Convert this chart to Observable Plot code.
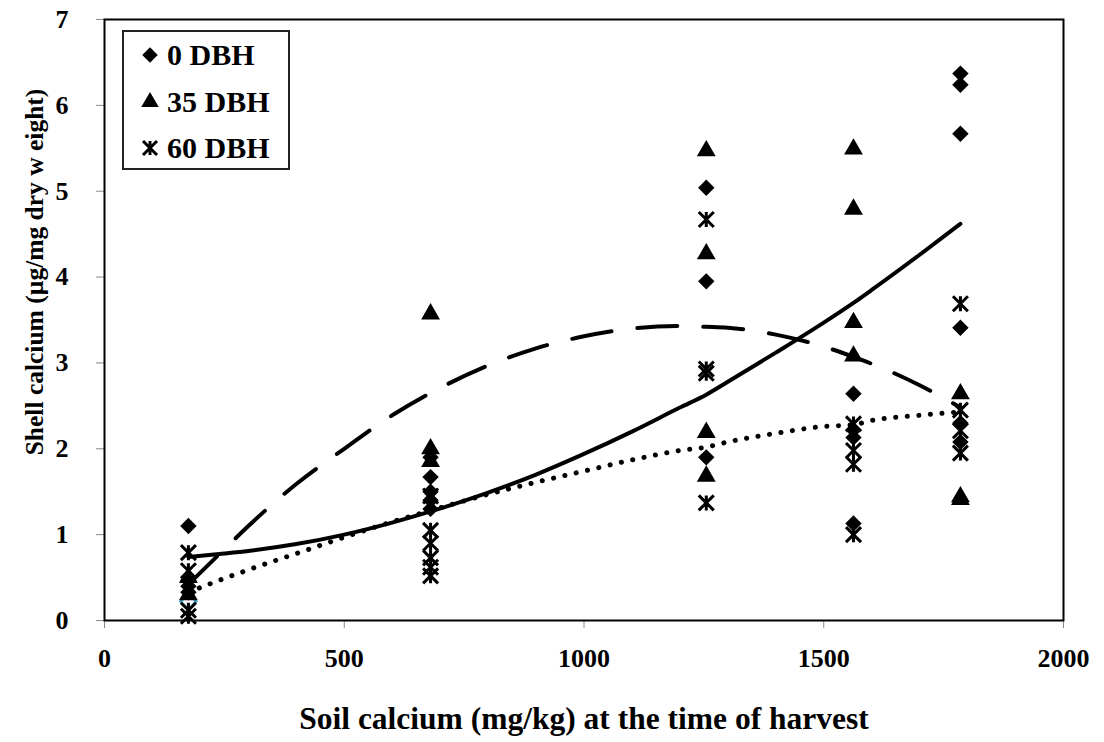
<!DOCTYPE html>
<html><head><meta charset="utf-8">
<script src="https://cdn.jsdelivr.net/npm/d3@7"></script>
<script src="https://cdn.jsdelivr.net/npm/@observablehq/plot@0.6"></script>
<style>
body{margin:0;background:#fff;}
#wrap{position:relative;width:1104px;height:742px;}
#legend{position:absolute;left:122px;top:30px;}
</style></head><body><div id="wrap"></div>
<script>
// Soil calcium levels (x clusters)
const soilCa = [175, 680, 1255, 1562, 1785];
// Shell calcium per cluster, by treatment
const dbh0 = [[1.1, 0.47, 0.4, 0.33], [1.9, 1.67, 1.5, 1.4, 1.3], [5.04, 3.95, 1.9], [2.64, 2.22, 2.13, 1.13], [6.37, 6.24, 5.67, 3.41, 2.3, 2.08]];
const dbh35 = [[0.5, 0.3], [3.57, 2.0, 1.85], [5.47, 4.27, 2.19, 1.68], [5.49, 4.79, 3.47, 3.08], [2.64, 1.44, 1.41]];
const dbh60 = [[0.79, 0.58, 0.12, 0.05], [1.45, 1.05, 0.9, 0.73, 0.62, 0.52], [4.67, 2.93, 2.88, 1.37], [2.29, 1.98, 1.82, 1.0], [3.69, 2.45, 2.21, 1.95]];
const oddPts = [0.22];
// Trend lines
const trendX = [175, 250, 300, 400, 500, 600, 680, 800, 900, 1000, 1100, 1200, 1255, 1300, 1400, 1500, 1562, 1600, 1700, 1785];
const trendSolid = [0.74, 0.78, 0.81, 0.89, 1.0, 1.14, 1.27, 1.49, 1.7, 1.94, 2.2, 2.48, 2.63, 2.78, 3.12, 3.47, 3.7, 3.85, 4.26, 4.62];
const trendDashed = [0.42, 0.83, 1.1, 1.59, 2.0, 2.39, 2.65, 2.97, 3.17, 3.31, 3.4, 3.43, 3.42, 3.41, 3.33, 3.19, 3.07, 2.99, 2.74, 2.48];
const trendDotted = [0.33, 0.49, 0.59, 0.78, 0.97, 1.15, 1.28, 1.47, 1.61, 1.74, 1.87, 1.98, 2.02, 2.08, 2.18, 2.26, 2.28, 2.33, 2.39, 2.43];
const xTicks = [0, 500, 1000, 1500, 2000];
const yTicks = [0, 1, 2, 3, 4, 5, 6, 7];
const legendLabels = ["0 DBH", "35 DBH", "60 DBH"];
const xLabel = "Soil calcium (mg/kg) at the time of harvest";
const yLabel = "Shell calcium (µg/mg dry w eight)";

const toRows = (groups) => groups.flatMap((ys, i) => ys.map(y => ({x: soilCa[i], y})));
const rows0 = toRows(dbh0), rows35 = toRows(dbh35), rows60 = toRows(dbh60);
const oddRows = oddPts.map(y => ({x: soilCa[0], y}));
const trend = trendX.map((x, i) => ({x, solid: trendSolid[i], dashed: trendDashed[i], dotted: trendDotted[i]}));

const star = {
  draw(ctx, size) {
    const r = Math.sqrt(size / Math.PI);
    ctx.moveTo(-r, -r); ctx.lineTo(r, r);
    ctx.moveTo(-r, r); ctx.lineTo(r, -r);
    ctx.moveTo(0, -r); ctx.lineTo(0, r);
  }
};

const font = "'Liberation Serif','Times New Roman',serif";
const fmt = d => String(d);
const chart = Plot.plot({
  width: 1104, height: 742,
  marginLeft: 104, marginRight: 41, marginTop: 19, marginBottom: 122,
  x: {domain: [0, 2000]},
  y: {domain: [0, 7]},
  style: {fontFamily: font, fontWeight: "bold", fontSize: "26px", color: "black", background: "white"},
  marks: [
    Plot.axisX({ticks: xTicks, tickFormat: fmt, tickSize: 8, tickPadding: 20, stroke: "#888", label: null, fontSize: 26}),
    Plot.axisY({ticks: yTicks, tickFormat: fmt, tickSize: 8, tickPadding: 28, stroke: "#888", label: null, fontSize: 26}),
    Plot.line(trend, {x: "x", y: "dashed", stroke: "black", strokeWidth: 4, strokeDasharray: "40 26", strokeLinecap: "round", curve: "monotone-x"}),
    Plot.line(trend, {x: "x", y: "dotted", stroke: "black", strokeWidth: 5, strokeDasharray: "0.1 11.5", strokeLinecap: "round", curve: "monotone-x"}),
    Plot.line(trend, {x: "x", y: "solid", stroke: "black", strokeWidth: 4, curve: "monotone-x"}),
    Plot.dot(oddRows, {x: "x", y: "y", symbol: "diamond2", r: 7, stroke: "#3a9cc0", strokeWidth: 2.5, fill: "none"}),
    Plot.dot(rows35, {x: "x", y: "y", symbol: "triangle", r: 7, fill: "black", stroke: null}),
    Plot.dot(rows0, {x: "x", y: "y", symbol: "diamond2", r: 7.4, fill: "black", stroke: null}),
    Plot.dot(rows60, {x: "x", y: "y", symbol: star, r: 7.5, stroke: "black", strokeWidth: 3, fill: "none"}),
    Plot.text([yLabel], {frameAnchor: "left", textAnchor: "middle", lineAnchor: "middle", text: d => d, rotate: -90, dx: -70, dy: -48, fontSize: 25.5, fontWeight: "bold", fill: "black"}),
    Plot.text([xLabel], {frameAnchor: "bottom", textAnchor: "middle", text: d => d, dy: 108, fontSize: 31.5, fontWeight: "bold", fill: "black"}),
    Plot.frame({stroke: "black", strokeWidth: 2})
  ]
});
const wrap = document.getElementById("wrap");
wrap.appendChild(chart);

// Legend (inside the plot area, top-left)
const lg = d3.create("svg").attr("id", "legend").attr("width", 168).attr("height", 140);
lg.append("rect").attr("x", 1).attr("y", 1).attr("width", 166).attr("height", 138).attr("fill", "white").attr("stroke", "#222").attr("stroke-width", 2);
const symbols = [d3.symbol(d3.symbolDiamond2, Math.PI * 7 * 7)(), d3.symbol(d3.symbolTriangle, Math.PI * 6.5 * 6.5)(), d3.symbol(star, Math.PI * 7 * 7)()];
const rowsY = [25, 72, 118];
legendLabels.forEach((lab, i) => {
  lg.append("path").attr("d", symbols[i]).attr("transform", `translate(28,${rowsY[i]})`)
    .attr("fill", i === 2 ? "none" : "black").attr("stroke", i === 2 ? "black" : "none").attr("stroke-width", 3);
  lg.append("text").attr("x", 45).attr("y", rowsY[i] + 10).text(lab)
    .attr("font-family", font).attr("font-weight", "bold").attr("font-size", 30).attr("fill", "black");
});
wrap.appendChild(lg.node());
</script></body></html>
